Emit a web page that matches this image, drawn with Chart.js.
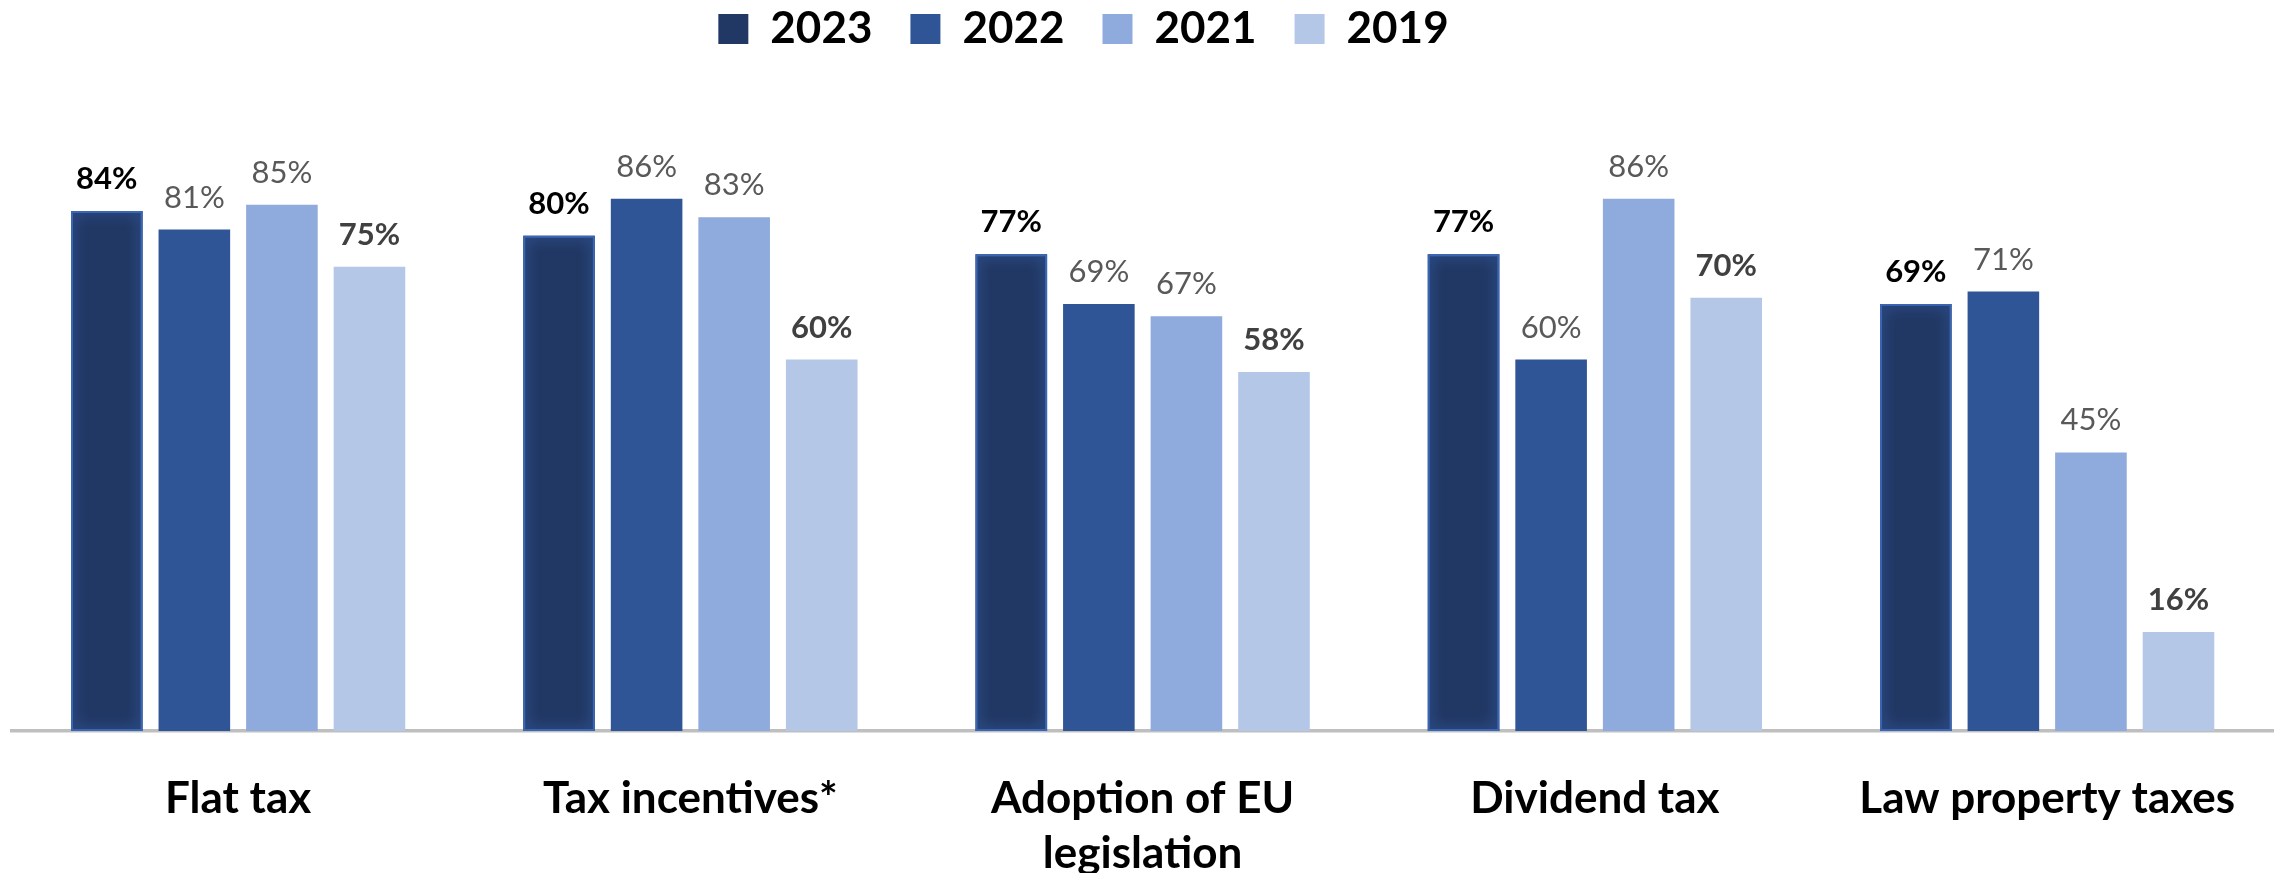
<!DOCTYPE html>
<html lang="en">
<head>
<meta charset="utf-8">
<title>Tax measures support 2019–2023</title>
<script src="https://cdn.jsdelivr.net/npm/chart.js@4.4.1/dist/chart.umd.min.js"></script>
<style>
  html, body { margin: 0; padding: 0; background: #fff; }
  #wrap { width: 2275px; height: 873px; }
</style>
</head>
<body>
<div id="wrap"><canvas id="grafico" width="2275" height="873"></canvas></div>
<script>
// Categorías y resultados por año (en %)
const categorias = [
  'Flat tax',
  'Tax incentives*',
  ['Adoption of EU', 'legislation'],
  'Dividend tax',
  'Law property taxes',
];
const anios = ['2023', '2022', '2021', '2019'];
const v2023 = [84, 80, 77, 77, 69];
const v2022 = [81, 86, 69, 60, 71];
const v2021 = [85, 83, 67, 86, 45];
const v2019 = [75, 60, 58, 70, 16];

const colores = ['#213864', '#2f5597', '#8faadc', '#b4c7e7'];
// estilo de la etiqueta de valor de cada serie
const estiloEtiqueta = [
  { weight: 'bold', color: '#000000' },
  { weight: 'normal', color: '#595959' },
  { weight: 'normal', color: '#595959' },
  { weight: 'bold', color: '#404040' },
];

const FUENTE = 'Lato, "Open Sans", sans-serif';

// Brillo interior de las barras de 2023
const brillo = {
  id: 'brillo',
  afterDatasetDraw(chart, args) {
    if (args.index !== 0) return;
    const ctx = chart.ctx;
    args.meta.data.forEach((bar) => {
      const { x, y, base, width } = bar.getProps(['x', 'y', 'base', 'width'], true);
      const left = x - width / 2;
      ctx.save();
      ctx.beginPath();
      ctx.rect(left, y, width, base - y);
      ctx.clip();
      ctx.shadowColor = '#3b66b3';
      ctx.shadowBlur = 14;
      ctx.strokeStyle = '#3b66b3';
      ctx.lineWidth = 4;
      ctx.strokeRect(left, y, width, base - y);
      ctx.restore();
    });
  },
};

// Etiquetas "NN%" encima de cada barra
const etiquetas = {
  id: 'etiquetas',
  afterDatasetsDraw(chart) {
    const ctx = chart.ctx;
    chart.data.datasets.forEach((ds, i) => {
      const meta = chart.getDatasetMeta(i);
      const est = estiloEtiqueta[i];
      ctx.save();
      ctx.font = `${est.weight} 31px ${FUENTE}`;
      ctx.fillStyle = est.color;
      ctx.textAlign = 'center';
      ctx.textBaseline = 'alphabetic';
      meta.data.forEach((bar, j) => {
        ctx.fillText(ds.data[j] + '%', bar.x, bar.y - 22);
      });
      ctx.restore();
    });
  },
};

// La leyenda va algo a la izquierda del centro y pegada arriba
const moverLeyenda = {
  id: 'moverLeyenda',
  afterLayout(chart) {
    const l = chart.legend;
    if (!l) return;
    l.left -= 60;
    l.right -= 60;
    l.top -= 51;
    l.bottom -= 51;
  },
};

const series = [v2023, v2022, v2021, v2019];

new Chart(document.getElementById('grafico'), {
  type: 'bar',
  data: {
    labels: categorias,
    datasets: series.map((data, i) => ({
      label: anios[i],
      data,
      backgroundColor: colores[i],
      borderWidth: 0,
      categoryPercentage: 0.7744,
      barPercentage: 0.8176,
    })),
  },
  options: {
    responsive: false,
    animation: false,
    layout: { padding: { left: 12, right: 0, top: 20, bottom: -48 } },
    plugins: {
      tooltip: { enabled: false },
      legend: {
        position: 'top',
        labels: {
          boxWidth: 30,
          boxHeight: 30,
          padding: 38,
          color: '#000',
          font: { family: FUENTE, size: 44, weight: 'bold' },
        },
      },
    },
    scales: {
      x: {
        grid: { display: false, drawTicks: false },
        border: { display: true, color: '#bfbfbf', width: 3.5 },
        ticks: {
          padding: 40,
          color: '#000',
          font: { family: FUENTE, size: 44, weight: 'bold', lineHeight: 1.25 },
          maxRotation: 0,
          autoSkip: false,
        },
      },
      y: {
        display: false,
        min: 0,
        max: 100,
      },
    },
  },
  plugins: [brillo, etiquetas, moverLeyenda],
});
</script>
</body>
</html>
